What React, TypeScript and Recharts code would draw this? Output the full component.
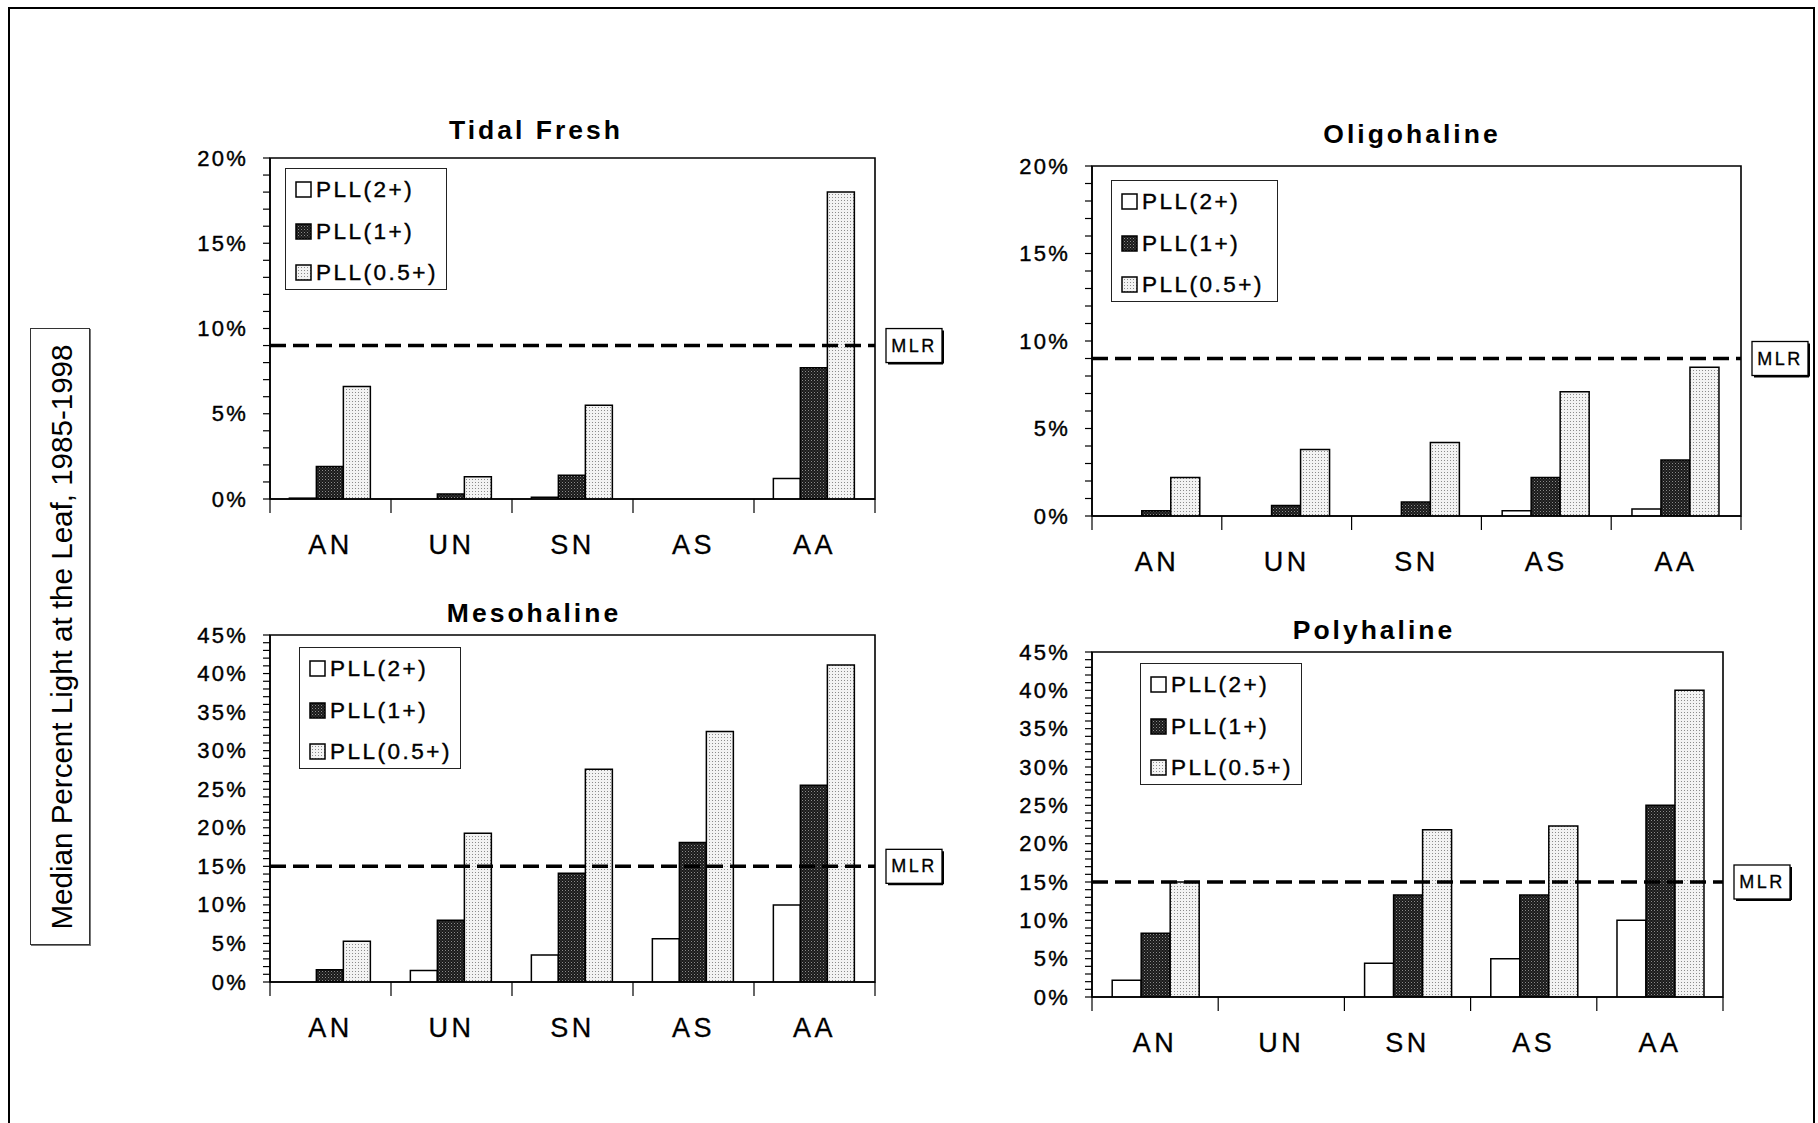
import React from 'react';
import { BarChart, Bar, XAxis, YAxis, ReferenceLine, ReferenceArea, Legend } from 'recharts';

const CATEGORIES = ['AN', 'UN', 'SN', 'AS', 'AA'];
const SERIES_NAMES = ['PLL(2+)', 'PLL(1+)', 'PLL(0.5+)'];

const TIDAL_PLL2 = [0.05, 0, 0.1, 0, 1.2];
const TIDAL_PLL1 = [1.9, 0.3, 1.4, 0, 7.7];
const TIDAL_PLL05 = [6.6, 1.3, 5.5, 0, 18.0];
const TIDAL_MLR = 9;

const OLIGO_PLL2 = [0, 0, 0, 0.3, 0.4];
const OLIGO_PLL1 = [0.3, 0.6, 0.8, 2.2, 3.2];
const OLIGO_PLL05 = [2.2, 3.8, 4.2, 7.1, 8.5];
const OLIGO_MLR = 9;

const MESO_PLL2 = [0, 1.5, 3.5, 5.6, 10.0];
const MESO_PLL1 = [1.6, 8.0, 14.1, 18.1, 25.5];
const MESO_PLL05 = [5.3, 19.3, 27.6, 32.5, 41.1];
const MESO_MLR = 15;

const POLY_PLL2 = [2.2, 0, 4.4, 5.0, 10.0];
const POLY_PLL1 = [8.3, 0, 13.3, 13.3, 25.0];
const POLY_PLL05 = [15.0, 0, 21.8, 22.3, 40.0];
const POLY_MLR = 15;

const Y_MAX_SMALL = 20;
const Y_MAX_LARGE = 45;
const Y_LABEL_STEP = 5;

const FONT = '"Liberation Sans", Arial, Helvetica, sans-serif';
const FILLS = ['#ffffff', 'url(#patDark)', 'url(#patLight)'];

const build = (a: number[], b: number[], c: number[]) =>
  CATEGORIES.map((cat, i) => ({ cat, p2: a[i], p1: b[i], p05: c[i] }));

const range = (max: number) => Array.from({ length: max + 1 }, (_, i) => i);

const ML = 110;
const MT = 60;
const MR = 110;
const XH = 70;
const MB = 10;

type PanelProps = {
  title: string;
  data: any[];
  max: number;
  mlr: number;
  pl: number; pt: number; pr: number; pb: number;
  titleX: number; titleY: number;
  legX: number; legY: number; legW: number;
};

const LegendBox = ({ w }: { w: number }) => (
  <div style={{ width: w, height: 122, border: '1px solid #222', background: '#fff', boxSizing: 'border-box', position: 'relative', fontFamily: FONT }}>
    {SERIES_NAMES.map((n, i) => (
      <div key={n} style={{ position: 'absolute', left: 9, top: 9 + i * 41.5, height: 24, display: 'flex', alignItems: 'center' }}>
        <svg width={18} height={18} style={{ display: 'block' }}>
          <rect x={1} y={1} width={15} height={15} fill={FILLS[i]} stroke="#000" strokeWidth={1.5} />
        </svg>
        <span style={{ fontSize: 22.5, letterSpacing: 2.5, marginLeft: 3, color: '#000', WebkitTextStroke: '0.4px #000' }}>{n}</span>
      </div>
    ))}
  </div>
);

const Panel = (p: PanelProps) => {
  const plotW = p.pr - p.pl;
  const plotH = p.pb - p.pt;
  const width = plotW + ML + MR;
  const height = plotH + MT + XH + MB;
  const bw = plotW / CATEGORIES.length;

  const YTick = (props: any) => {
    const { x, y, payload } = props;
    const v = payload.value;
    const major = v % Y_LABEL_STEP === 0;
    return (
      <g>
        <line x1={x - 7} x2={x} y1={y} y2={y} stroke="#000" strokeWidth={1.2} />
        {major && (
          <text x={x - 22} y={y} textAnchor="end" dominantBaseline="central" fontFamily={FONT} fontSize={22} letterSpacing={2.2} fill="#000" stroke="#000" strokeWidth={0.4}>
            {`${v}%`}
          </text>
        )}
      </g>
    );
  };

  const XTick = (props: any) => {
    const { x, y, payload, index } = props;
    return (
      <g>
        <line x1={x - bw / 2} x2={x - bw / 2} y1={y} y2={y + 14} stroke="#000" strokeWidth={1.2} />
        {index === CATEGORIES.length - 1 && (
          <line x1={x + bw / 2} x2={x + bw / 2} y1={y} y2={y + 14} stroke="#000" strokeWidth={1.2} />
        )}
        <text x={x} y={y + 46} textAnchor="middle" dominantBaseline="central" fontFamily={FONT} fontSize={27} letterSpacing={3.5} fill="#000" stroke="#000" strokeWidth={0.3}>
          {payload.value}
        </text>
      </g>
    );
  };

  const MlrLabel = (props: any) => {
    const vb = props.viewBox || {};
    const bx = vb.x + vb.width + 11;
    const by = vb.y - 17;
    return (
      <g>
        <rect x={bx} y={by} width={56} height={34} fill="#fff" stroke="#000" strokeWidth={1.3} />
        <line x1={bx + 2} x2={bx + 57} y1={by + 35} y2={by + 35} stroke="#000" strokeWidth={2} />
        <line x1={bx + 57} x2={bx + 57} y1={by + 2} y2={by + 35} stroke="#000" strokeWidth={2} />
        <text x={bx + 28} y={by + 17} textAnchor="middle" dominantBaseline="central" fontFamily={FONT} fontSize={18} letterSpacing={2.5} fill="#000" stroke="#000" strokeWidth={0.3}>
          MLR
        </text>
      </g>
    );
  };

  return (
    <>
      <div style={{ position: 'absolute', left: p.titleX - 200, top: p.titleY - 16, width: 400, height: 32, lineHeight: '32px', textAlign: 'center', fontFamily: FONT, fontWeight: 'bold', fontSize: 26.5, letterSpacing: 3, color: '#000' }}>
        {p.title}
      </div>
      <div style={{ position: 'absolute', left: p.pl - ML, top: p.pt - MT }}>
        <BarChart width={width} height={height} data={p.data} margin={{ top: MT, right: MR, bottom: MB, left: 0 }} barCategoryGap="16%" barGap={0}>
          <XAxis dataKey="cat" height={XH} tickSize={0} tickMargin={0} tick={<XTick />} axisLine={{ stroke: '#000', strokeWidth: 1.5 }} tickLine={false} interval={0} />
          <YAxis type="number" width={ML} domain={[0, p.max]} ticks={range(p.max)} interval={0} tickSize={0} tickMargin={0} tick={<YTick />} axisLine={{ stroke: '#000', strokeWidth: 1.5 }} tickLine={false} allowDataOverflow />
          <ReferenceArea y1={0} y2={p.max} fill="none" fillOpacity={0} stroke="#000" strokeWidth={1.6} />
          <Legend
            layout="vertical"
            align="center"
            verticalAlign="middle"
            wrapperStyle={{ left: ML + p.legX, top: MT + p.legY, width: p.legW, height: 122 }}
            content={() => <LegendBox w={p.legW} />}
          />
          <Bar dataKey="p2" name={SERIES_NAMES[0]} fill={FILLS[0]} stroke="#000" strokeWidth={1.5} isAnimationActive={false} />
          <Bar dataKey="p1" name={SERIES_NAMES[1]} fill={FILLS[1]} stroke="#000" strokeWidth={1.5} isAnimationActive={false} />
          <Bar dataKey="p05" name={SERIES_NAMES[2]} fill={FILLS[2]} stroke="#000" strokeWidth={1.5} isAnimationActive={false} />
          <ReferenceLine y={p.mlr} stroke="#000" strokeWidth={3.5} strokeDasharray="16 7" label={<MlrLabel />} />
        </BarChart>
      </div>
    </>
  );
};

export default function App() {
  return (
    <div style={{ position: 'absolute', left: 0, top: 0, width: 1818, height: 1123, overflow: 'hidden', background: '#fff' }}>
      <svg width={0} height={0} style={{ position: 'absolute' }}>
        <defs>
          <pattern id="patDark" patternUnits="userSpaceOnUse" width={3} height={3}>
            <rect width={3} height={3} fill="#1a1a1a" />
            <rect x={0} y={0} width={1} height={1} fill="#8a8a8a" />
            <rect x={1.5} y={1.5} width={1} height={1} fill="#5a5a5a" />
          </pattern>
          <pattern id="patLight" patternUnits="userSpaceOnUse" width={3} height={3}>
            <rect width={3} height={3} fill="#f3f3f3" />
            <rect x={0} y={0} width={1} height={1} fill="#8c8c8c" />
          </pattern>
        </defs>
      </svg>
      <div style={{ position: 'absolute', left: 8, top: 7, width: 1803, height: 1200, border: '2px solid #000' }} />
      <div style={{ position: 'absolute', left: 30, top: 328, width: 60, height: 617, border: '1px solid #333', boxSizing: 'border-box', boxShadow: '1px 1px 0 #777' }}>
        <svg width={58} height={615} style={{ display: 'block' }}>
          <text x={0} y={0} transform="translate(31,308) rotate(-90)" textAnchor="middle" dominantBaseline="central" fontFamily='"Liberation Sans Narrow", "Liberation Sans", Arial, sans-serif' fontSize={29} textLength={585} lengthAdjust="spacingAndGlyphs" fill="#000">
            Median Percent Light at the Leaf, 1985-1998
          </text>
        </svg>
      </div>
      <Panel title="Tidal Fresh" data={build(TIDAL_PLL2, TIDAL_PLL1, TIDAL_PLL05)} max={Y_MAX_SMALL} mlr={TIDAL_MLR}
        pl={270} pt={158} pr={875} pb={499} titleX={536} titleY={130} legX={15} legY={10} legW={162} />
      <Panel title="Oligohaline" data={build(OLIGO_PLL2, OLIGO_PLL1, OLIGO_PLL05)} max={Y_MAX_SMALL} mlr={OLIGO_MLR}
        pl={1092} pt={166} pr={1741} pb={516} titleX={1412} titleY={134} legX={19} legY={14} legW={167} />
      <Panel title="Mesohaline" data={build(MESO_PLL2, MESO_PLL1, MESO_PLL05)} max={Y_MAX_LARGE} mlr={MESO_MLR}
        pl={270} pt={635} pr={875} pb={982} titleX={534} titleY={613} legX={29} legY={12} legW={162} />
      <Panel title="Polyhaline" data={build(POLY_PLL2, POLY_PLL1, POLY_PLL05)} max={Y_MAX_LARGE} mlr={POLY_MLR}
        pl={1092} pt={652} pr={1723} pb={997} titleX={1374} titleY={630} legX={48} legY={11} legW={162} />
    </div>
  );
}
